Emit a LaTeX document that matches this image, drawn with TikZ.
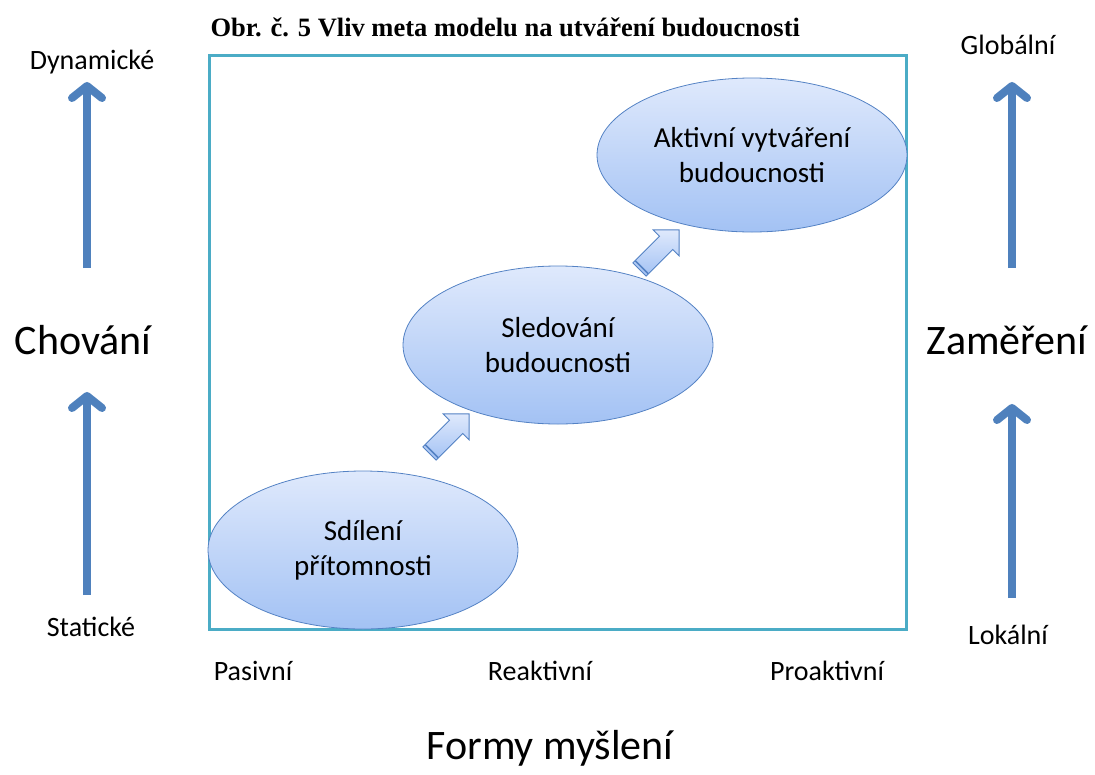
\documentclass[tikz,border=0pt]{standalone}
\usepackage{fontspec}
\setmainfont{Carlito}
\newfontfamily\titlefont{Liberation Serif}
\usetikzlibrary{arrows.meta,shapes.geometric,shapes.arrows,calc}
\definecolor{FrameTeal}{RGB}{75,172,198}
\definecolor{AxisBlue}{RGB}{79,129,189}
\definecolor{EllTop}{RGB}{223,233,252}
\definecolor{EllBottom}{RGB}{163,194,244}
\definecolor{EllLine}{RGB}{84,130,196}
\tikzset{
  stagebox/.style={ellipse, draw=EllLine, thick, top color=EllTop,
    bottom color=EllBottom, minimum width=310pt, minimum height=158pt,
    align=center, font=\fontsize{29}{35}\selectfont, inner sep=0pt},
  stepper/.style={single arrow, draw=EllLine, thick, top color=EllTop,
    bottom color=EllBottom, rotate=45, minimum height=56pt,
    inner xsep=0pt, inner ysep=9pt, single arrow head extend=9pt},
  bevel/.style={EllLine, line width=1.6pt},
  axislabel/.style={font=\fontsize{28}{32}\selectfont},
  bigaxis/.style={font=\fontsize{42}{48}\selectfont},
  axisarrow/.style={AxisBlue, line width=8pt,
    -{Straight Barb[length=12pt,width=30pt,line cap=round,line join=round]}}
}

\begin{document}
\begin{tikzpicture}[x=1pt,y=-1pt]
  \useasboundingbox (0,0) rectangle (1095,774);
  % title and frame
  \node[anchor=west, font=\titlefont\bfseries\fontsize{26.5}{30}\selectfont] (title) at (207,27)
    {Obr. č. 5 Vliv meta modelu na utváření budoucnosti};
  \draw[FrameTeal, line width=3pt] (209,55) rectangle (906,629);

  % stages
  \node[stagebox] (share) at (363,550) {Sdílení\\přítomnosti};
  \node[stagebox] (watch) at (558,345) {Sledování\\budoucnosti};
  \node[stagebox, minimum height=154pt] (create) at (752,155) {Aktivní vytváření\\budoucnosti};
  \node[stepper] (step1) at (446,437) {};
  \node[stepper] (step2) at (656,253) {};
  \foreach \s in {step1,step2}
    \draw[bevel] ($(\s.tail)!3.5pt!(\s.tip)!9pt!90:(\s.tip)$)
      -- ($(\s.tail)!3.5pt!(\s.tip)!9pt!-90:(\s.tip)$);

  % left axis
  \node[axislabel] (dyn) at (92,62) {Dynamické};
  \node[bigaxis] (behav) at (83,340) {Chování};
  \node[axislabel] (stat) at (91,627) {Statické};
  \coordinate (l1) at (87,595);
  \coordinate (l2) at (87,392);
  \coordinate (l3) at (87,268);
  \coordinate (l4) at (87,82);
  \draw[axisarrow] (l1) -- (l2);
  \draw[axisarrow] (l3) -- (l4);

  % right axis
  \node[axislabel] (glob) at (1008,45) {Globální};
  \node[bigaxis] (focus) at (1007,340) {Zaměření};
  \node[axislabel] (loc) at (1008,635) {Lokální};
  \coordinate (r1) at (1012,598);
  \coordinate (r2) at (1012,404);
  \coordinate (r3) at (1012,268);
  \coordinate (r4) at (1012,82);
  \draw[axisarrow] (r1) -- (r2);
  \draw[axisarrow] (r3) -- (r4);

  % bottom axis
  \node[axislabel] (pas) at (253,671) {Pasivní};
  \node[axislabel] (react) at (540,671) {Reaktivní};
  \node[axislabel] (proact) at (827,671) {Proaktivní};
  \node[bigaxis] (forms) at (550,748) {Formy myšlení};
\end{tikzpicture}
\end{document}
